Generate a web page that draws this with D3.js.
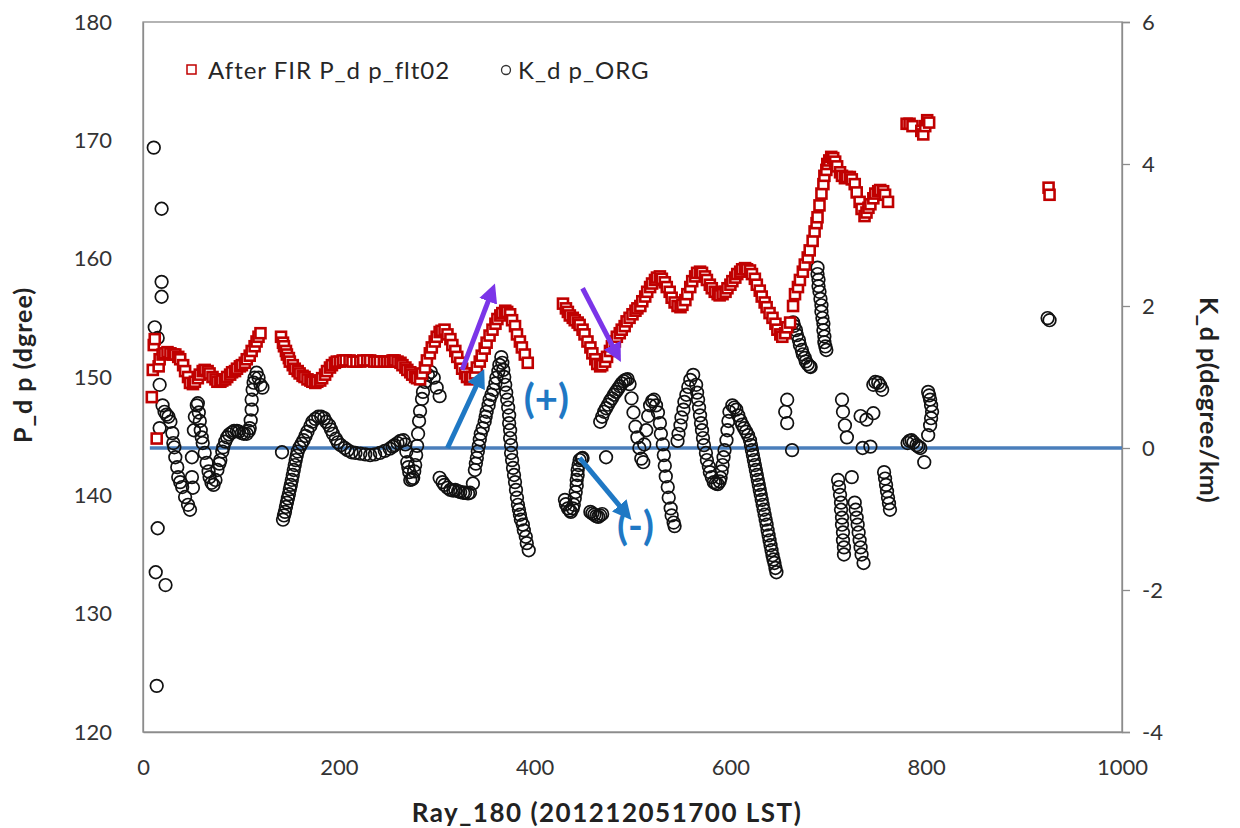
<!DOCTYPE html>
<html>
<head>
<meta charset="utf-8">
<script src="https://cdn.jsdelivr.net/npm/d3@7"></script>
<style>
  body { margin: 0; background: #fff; }
  text { font-family: Lato, "Open Sans", sans-serif; }
</style>
</head>
<body>
<svg id="chart" width="1240" height="828"></svg>
<script>
// ray index vs filtered differential phase (left axis, degree)
var pdpPoints = [
  [9,148.3],[10,150.6],[11,152.7],[12,153.2],[14,144.8],[16,150.9],
  [17,151.5],[20,151.9],[22,152.0],[25,152.1],[28,152.0],[31,151.9],[33,151.9],[36,151.7],[38,151.5],[41,151.0],
  [43,150.5],[46,150.0],[48,149.5],[51,149.4],[53,149.6],[56,149.9],[58,150.2],[61,150.5],[63,150.6],[66,150.5],
  [68,150.3],[71,150.0],[74,149.8],[76,149.6],[79,149.6],[81,149.7],[84,149.8],[86,150.0],[89,150.2],[91,150.4],
  [94,150.5],[96,150.7],[99,150.9],[101,151.0],[104,151.2],[106,151.5],[109,151.8],[111,152.2],[114,152.6],
  [116,153.0],[118,153.4],[120,153.7],
  [141,153.4],[143,152.9],[144,152.6],[146,152.2],[147,151.9],[149,151.6],[150,151.3],[153,151.0],[155,150.7],
  [158,150.5],[160,150.3],[163,150.1],[165,150.0],[168,149.8],[171,149.7],[173,149.6],[176,149.5],[178,149.6],
  [181,149.7],[183,149.9],[186,150.2],[188,150.5],[191,150.8],[193,151.0],[196,151.2],[198,151.3],[201,151.3],
  [204,151.4],[207,151.4],[211,151.4],[214,151.3],[218,151.3],[222,151.3],[225,151.4],[229,151.4],[232,151.4],
  [236,151.3],[239,151.3],[242,151.3],[246,151.3],[249,151.3],[252,151.3],[255,151.4],[257,151.4],[260,151.3],
  [263,151.2],[265,151.0],[268,150.8],[270,150.6],[273,150.4],[275,150.2],[278,150.0],[280,149.9],[283,149.8],
  [285,150.3],[288,150.8],[290,151.4],[293,152.0],[295,152.5],[298,153.0],[300,153.4],[303,153.8],[305,153.9],
  [308,154.0],[311,153.6],[314,153.2],[316,152.7],[319,152.2],[321,151.7],[324,151.2],[326,150.7],[329,150.3],
  [331,150.0],[334,149.8],[336,150.0],[339,150.3],[341,150.8],[344,151.3],[346,151.8],[349,152.4],[351,152.9],
  [354,153.5],[357,154.0],[360,154.5],[362,154.9],[365,155.2],[367,155.4],[370,155.6],[372,155.5],[375,155.3],
  [377,154.8],[380,154.3],[382,153.6],[385,153.0],[387,152.5],[390,151.9],[393,151.2],
  [429,156.2],[432,155.8],[434,155.5],[436,155.2],[439,155.0],[441,154.8],[444,154.6],[446,154.4],[449,154.0],
  [451,153.6],[454,153.0],[457,152.5],[459,152.0],[462,151.5],[464,151.1],[467,150.9],[469,151.0],[472,151.3],
  [474,151.7],[477,152.2],[479,152.6],[482,153.0],[484,153.4],[487,153.7],[489,154.0],[492,154.3],[494,154.7],
  [497,155.0],[500,155.3],[503,155.6],[505,155.8],[508,156.0],[510,156.4],[513,156.8],[515,157.2],[518,157.6],
  [520,157.9],[523,158.2],[525,158.4],[528,158.5],[530,158.3],[533,158.0],[535,157.6],[538,157.2],[540,156.7],
  [543,156.3],[546,156.0],[549,155.9],[551,156.1],[554,156.5],[556,157.0],[559,157.6],[561,158.1],[564,158.5],
  [566,158.8],[569,158.9],[571,158.8],[574,158.5],[576,158.2],[579,157.8],[581,157.5],[584,157.2],[587,157.0],
  [589,156.9],[592,157.0],[595,157.2],[597,157.5],[600,157.8],[602,158.1],[605,158.4],[607,158.7],[610,158.9],
  [612,159.1],[615,159.2],[617,159.1],[620,159.0],[622,158.7],[625,158.3],[627,157.8],[630,157.3],[632,156.8],
  [635,156.3],[637,155.9],[640,155.4],[643,155.0],[646,154.5],[648,154.0],[651,153.6],[653,153.4],[656,153.7],
  [658,154.2],[661,154.6],[664,156.0],[666,157.0],[669,157.6],[671,158.2],[674,158.9],[676,159.5],[679,160.1],
  [681,160.7],[684,161.5],[686,162.3],[688,163.0],[689,163.5],[691,164.5],[693,165.5],[695,166.3],[696,167.0],
  [698,167.5],[699,168.0],[701,168.3],[703,168.6],[705,168.5],[707,168.2],[709,167.8],[712,167.3],[714,167.0],
  [717,166.8],[719,166.9],[722,166.9],[724,166.7],[727,166.3],[729,165.6],[732,164.8],[734,164.2],[737,163.6],
  [739,163.9],[741,164.3],[743,164.6],[746,165.1],[748,165.5],[751,165.7],[753,165.8],[756,165.7],[758,165.4],
  [761,164.8],
  [780,171.4],[783,171.4],[786,171.2],[795,170.8],[797,170.5],[799,171.2],[801,171.7],[803,171.5],
  [925,166.0],[926,165.4]
];

// ray index vs specific differential phase (right axis, degree/km)
var kdpPoints = [
  [11,4.23],[19,3.37],[19,2.34],[19,2.13],[12,1.70],[15,1.55],[17,0.89],[15,-1.13],[13,-1.75],[23,-1.93],[14,-3.35],[17,0.28],
  [20,0.60],[22,0.51],[24,0.47],[26,0.44],[28,0.37],[30,0.21],[31,0.07],[32,0.01],[33,-0.13],[35,-0.27],[36,-0.41],
  [38,-0.48],[40,-0.55],[43,-0.69],[46,-0.80],[48,-0.87],[50,-0.13],[50,-0.41],[51,-0.56],
  [52,0.25],[53,0.44],[55,0.60],[56,0.63],[57,0.50],[58,0.38],[59,0.25],[60,0.15],[61,0.07],[63,-0.07],[65,-0.21],
  [67,-0.33],[68,-0.41],[70,-0.49],[72,-0.52],[74,-0.45],
  [76,-0.31],[78,-0.22],[79,-0.17],[81,-0.05],[82,0.01],[84,0.09],[86,0.15],[88,0.19],[91,0.22],[93,0.24],[96,0.24],
  [98,0.23],[101,0.21],[103,0.20],[106,0.20],[108,0.24],[109,0.28],
  [110,0.39],[111,0.54],[111,0.68],[112,0.82],[113,0.92],[114,0.99],[116,1.06],[118,0.99],[120,0.89],[122,0.85],
  [142,-0.06],
  [143,-1.01],[144,-0.95],[145,-0.90],[146,-0.83],[147,-0.77],[148,-0.71],[149,-0.65],[150,-0.58],[151,-0.52],
  [152,-0.45],[153,-0.38],[154,-0.31],[155,-0.24],[156,-0.17],[157,-0.11],[158,-0.05],[160,0.01],[162,0.06],[164,0.11],
  [166,0.17],[168,0.23],[171,0.31],[173,0.37],[176,0.41],[179,0.44],[182,0.44],[185,0.42],[187,0.37],[190,0.32],
  [192,0.26],[194,0.20],[197,0.13],[199,0.08],[202,0.04],[206,0.00],[209,-0.03],[213,-0.06],
  [217,-0.07],[222,-0.08],[227,-0.09],[232,-0.10],[237,-0.09],[242,-0.07],[247,-0.04],[252,-0.01],[255,0.02],
  [257,0.04],[260,0.07],[263,0.10],[266,0.11],[268,0.05],[269,-0.05],[270,-0.20],[271,-0.27],[272,-0.34],[273,-0.45],
  [275,-0.44],[276,-0.42],[277,-0.33],[278,-0.24],[279,-0.10],[280,0.03],[281,0.20],[282,0.38],[283,0.52],[285,0.69],
  [286,0.79],[288,0.93],[291,1.03],[294,1.07],[297,0.99],[300,0.85],[303,0.73],
  [303,-0.42],[306,-0.48],[308,-0.52],[311,-0.56],[314,-0.59],[317,-0.60],[319,-0.59],[322,-0.61],[324,-0.62],
  [327,-0.63],[329,-0.63],[332,-0.64],[334,-0.63],[337,-0.50],
  [339,-0.31],[340,-0.22],[341,-0.14],[342,-0.05],[343,0.03],[344,0.12],[345,0.20],[347,0.28],[349,0.37],[350,0.44],
  [351,0.51],[353,0.60],[354,0.68],[356,0.75],[358,0.82],[360,0.91],[361,0.99],[363,1.08],[364,1.17],[366,1.28],
  [367,1.20],[368,1.10],[369,1.00],[370,0.89],[371,0.78],[372,0.68],[373,0.57],[374,0.46],[374,0.35],[375,0.25],
  [375,0.14],[376,0.04],[376,-0.07],[377,-0.17],[378,-0.28],[379,-0.38],[380,-0.48],[381,-0.59],[382,-0.70],
  [383,-0.80],[384,-0.87],[385,-0.94],[386,-1.01],[388,-1.08],[389,-1.16],[391,-1.25],[392,-1.34],[394,-1.44],
  [431,-0.73],[432,-0.79],[434,-0.85],[436,-0.88],[437,-0.90],[439,-0.85],[440,-0.80],[441,-0.71],[442,-0.62],
  [443,-0.53],[443,-0.45],[444,-0.38],[444,-0.31],[445,-0.24],[446,-0.17],[448,-0.15],[449,-0.14],
  [457,-0.90],[459,-0.92],[461,-0.94],[463,-0.96],[465,-0.97],[467,-0.95],[469,-0.93],[473,-0.13],
  [467,0.37],[469,0.44],[471,0.51],[473,0.56],[475,0.61],[477,0.66],[479,0.70],[481,0.75],[483,0.79],[485,0.83],
  [487,0.87],[489,0.91],[491,0.94],[493,0.96],[495,0.97],[497,0.90],
  [499,0.70],[501,0.50],[503,0.30],[505,0.15],[507,0.00],[509,-0.15],[511,-0.20],[512,0.05],[514,0.25],[516,0.45],
  [518,0.60],[520,0.66],[522,0.68],[524,0.60],[526,0.50],[528,0.35],[529,0.20],[531,0.05],[532,-0.10],[533,-0.25],
  [534,-0.40],[536,-0.55],[537,-0.70],[539,-0.85],[540,-0.95],[542,-1.05],[543,-1.10],
  [546,0.10],[547,0.20],[549,0.32],[550,0.43],[552,0.54],[553,0.65],[555,0.75],[557,0.86],[559,0.96],[562,1.03],
  [565,0.89],[566,0.78],[567,0.68],[568,0.57],[569,0.46],[570,0.35],[571,0.25],[572,0.14],[573,0.04],[575,-0.07],
  [576,-0.17],[578,-0.26],[579,-0.34],[581,-0.41],[583,-0.48],[585,-0.50],[587,-0.51],[589,-0.47],[590,-0.42],
  [591,-0.33],[592,-0.24],[593,-0.13],[594,-0.03],[596,0.11],[597,0.25],[598,0.38],[599,0.51],[602,0.60],[604,0.57],
  [606,0.54],[608,0.46],[610,0.39],[612,0.33],[614,0.28],[616,0.23],[618,0.18],[620,0.11],[621,0.04],[622,-0.03],
  [623,-0.10],[624,-0.17],[625,-0.24],[626,-0.31],[627,-0.38],[628,-0.45],[629,-0.52],[630,-0.59],[631,-0.66],
  [632,-0.73],[633,-0.80],[634,-0.87],[635,-0.94],[636,-1.01],[637,-1.08],[638,-1.16],[639,-1.23],[640,-1.30],
  [641,-1.37],[642,-1.44],[643,-1.51],[644,-1.57],[645,-1.62],[646,-1.69],[647,-1.75],
  [656,0.51],[658,0.68],[658,0.35],[663,-0.03],
  [664,1.77],[665,1.72],[667,1.66],[668,1.59],[670,1.52],[671,1.45],[673,1.38],[674,1.32],[676,1.27],[677,1.22],
  [679,1.18],[681,1.15],[682,1.14],
  [689,2.54],[689,2.45],[690,2.37],[690,2.28],[691,2.20],[692,2.10],[693,2.01],[693,1.92],[694,1.83],[695,1.75],
  [695,1.66],[696,1.57],[696,1.49],[697,1.43],[698,1.38],
  [710,-0.45],[711,-0.55],[712,-0.66],[713,-0.77],[713,-0.87],[714,-0.98],[714,-1.08],[715,-1.19],[715,-1.30],
  [716,-1.40],[716,-1.50],
  [714,0.68],[715,0.51],[717,0.32],[719,0.15],
  [728,-0.87],[729,-0.98],[730,-1.08],[731,-1.19],[732,-1.30],[733,-1.40],[734,-1.50],[736,-1.62],
  [724,-0.41],[727,-0.77],[735,0.00],[733,0.45],[739,0.40],
  [746,0.89],[748,0.93],[751,0.92],[753,0.88],[755,0.82],[746,0.49],[743,0.02],
  [757,-0.34],[758,-0.43],[759,-0.52],[760,-0.61],[761,-0.70],[762,-0.78],[763,-0.87],
  [781,0.07],[783,0.10],[785,0.11],[787,0.08],[790,0.04],[792,0.02],[794,0.00],[798,-0.20],
  [802,0.79],[803,0.74],[804,0.68],[805,0.60],[806,0.51],[805,0.42],[804,0.32],[802,0.18],
  [924,1.83],[926,1.80]
];

var xTicks = [0, 200, 400, 600, 800, 1000];
var leftTicks = [120, 130, 140, 150, 160, 170, 180];
var rightTicks = [-4, -2, 0, 2, 4, 6];

// hand drawn annotations: [ray1, value1, ray2, value2, axis, colour]
var arrows = [
  [311, 0, 342, 0.92, "k", "#1f78c4"],
  [326, 150.6, 354, 156.7, "p", "#7b35e8"],
  [449, 157.5, 481, 152.4, "p", "#7b35e8"],
  [446, -0.14, 489, -0.85, "k", "#1f78c4"]
];
var notes = [["(+)", 412, 0.64], ["(-)", 503, -1.15]];

var svg = d3.select("#chart");
var plotL = 143, plotR = 1122, plotT = 22, plotB = 732;

var x = d3.scaleLinear().domain([0, 1000]).range([plotL, plotR]);
var yL = d3.scaleLinear().domain([120, 180]).range([plotB, plotT]);
var yR = d3.scaleLinear().domain([-4, 6]).range([plotB, plotT]);

// plot frame
svg.append("rect")
    .attr("x", plotL).attr("y", plotT)
    .attr("width", plotR - plotL).attr("height", plotB - plotT)
    .attr("fill", "none")
    .attr("stroke", "#8c8c8c")
    .attr("stroke-width", 1.3);

var axL = svg.append("g").attr("transform", "translate(" + plotL + ",0)")
    .call(d3.axisLeft(yL).tickValues(leftTicks).tickSize(0).tickPadding(31));
var axR = svg.append("g").attr("transform", "translate(" + plotR + ",0)")
    .call(d3.axisRight(yR).tickValues(rightTicks).tickFormat(d => String(d)).tickSize(8).tickPadding(12));
var axB = svg.append("g").attr("transform", "translate(0," + plotB + ")")
    .call(d3.axisBottom(x).tickValues(xTicks).tickFormat(d => String(d)).tickSize(0).tickPadding(27));

[axL, axR, axB].forEach(function (g) {
    g.select(".domain").attr("stroke", "#8c8c8c").attr("stroke-width", 1.3);
    g.selectAll(".tick line").attr("stroke", "#8c8c8c").attr("stroke-width", 1.3);
    g.selectAll(".tick text")
        .attr("font-size", 22)
        .attr("fill", "#333")
        .style("font-family", "Lato, sans-serif");
});

// zero line of K_dp
svg.append("line")
    .attr("x1", x(7)).attr("x2", x(1000))
    .attr("y1", yR(0)).attr("y2", yR(0))
    .attr("stroke", "#4a7ebb")
    .attr("stroke-width", 3.5);

// K_dp circles
svg.append("g").selectAll("circle")
    .data(kdpPoints)
    .enter().append("circle")
    .attr("cx", d => x(d[0]))
    .attr("cy", d => yR(d[1]))
    .attr("r", 6.3)
    .attr("fill", "none")
    .attr("stroke", "#111")
    .attr("stroke-width", 1.7);

// P_dp squares
svg.append("g").selectAll("rect")
    .data(pdpPoints)
    .enter().append("rect")
    .attr("x", d => x(d[0]) - 5)
    .attr("y", d => yL(d[1]) - 5)
    .attr("width", 10).attr("height", 10)
    .attr("fill", "#fff")
    .attr("stroke", "#c00000")
    .attr("stroke-width", 2.6);

// arrows
var defs = svg.append("defs");
arrows.forEach(function (a, i) {
    defs.append("marker")
        .attr("id", "head" + i)
        .attr("viewBox", "0 0 10 10")
        .attr("refX", 2).attr("refY", 5)
        .attr("markerWidth", 3.8).attr("markerHeight", 3.8)
        .attr("orient", "auto")
        .append("path")
        .attr("d", "M0,0 L10,5 L0,10 z")
        .attr("fill", a[5]);
    var ys = a[4] === "k" ? yR : yL;
    svg.append("line")
        .attr("x1", x(a[0])).attr("y1", ys(a[1]))
        .attr("x2", x(a[2])).attr("y2", ys(a[3]))
        .attr("stroke", a[5])
        .attr("stroke-width", 5)
        .attr("marker-end", "url(#head" + i + ")");
});

svg.selectAll(".note")
    .data(notes)
    .enter().append("text")
    .attr("class", "note")
    .attr("x", d => x(d[1]))
    .attr("y", d => yR(d[2]))
    .attr("text-anchor", "middle")
    .attr("dominant-baseline", "middle")
    .attr("font-size", 40)
    .attr("font-weight", "bold")
    .attr("fill", "#1f78c4")
    .text(d => d[0]);

// legend
var legend = svg.append("g").attr("font-size", 24).attr("fill", "#262626")
    .attr("letter-spacing", 1);
legend.append("rect").attr("x", 187).attr("y", 65).attr("width", 9).attr("height", 9)
    .attr("fill", "#fff").attr("stroke", "#c00000").attr("stroke-width", 1.5);
legend.append("text").attr("x", 208).attr("y", 79).text("After FIR P_d p_flt02");
legend.append("circle").attr("cx", 506).attr("cy", 70).attr("r", 4.5)
    .attr("fill", "none").attr("stroke", "#333").attr("stroke-width", 1.3);
legend.append("text").attr("x", 518).attr("y", 79).text("K_d p_ORG");

// axis titles
svg.append("text")
    .attr("transform", "translate(32,365) rotate(-90)")
    .attr("text-anchor", "middle")
    .attr("font-size", 25).attr("font-weight", "bold").attr("fill", "#222")
    .attr("letter-spacing", 1)
    .text("P_d p (dgree)");
svg.append("text")
    .attr("transform", "translate(1200,400) rotate(90)")
    .attr("text-anchor", "middle")
    .attr("font-size", 25).attr("font-weight", "bold").attr("fill", "#222")
    .attr("letter-spacing", 0.5)
    .text("K_d p(degree/km)");
svg.append("text")
    .attr("x", 607).attr("y", 822)
    .attr("text-anchor", "middle")
    .attr("font-size", 26).attr("font-weight", "bold").attr("fill", "#222")
    .attr("letter-spacing", 1.5)
    .text("Ray_180 (201212051700 LST)");
</script>
</body>
</html>
